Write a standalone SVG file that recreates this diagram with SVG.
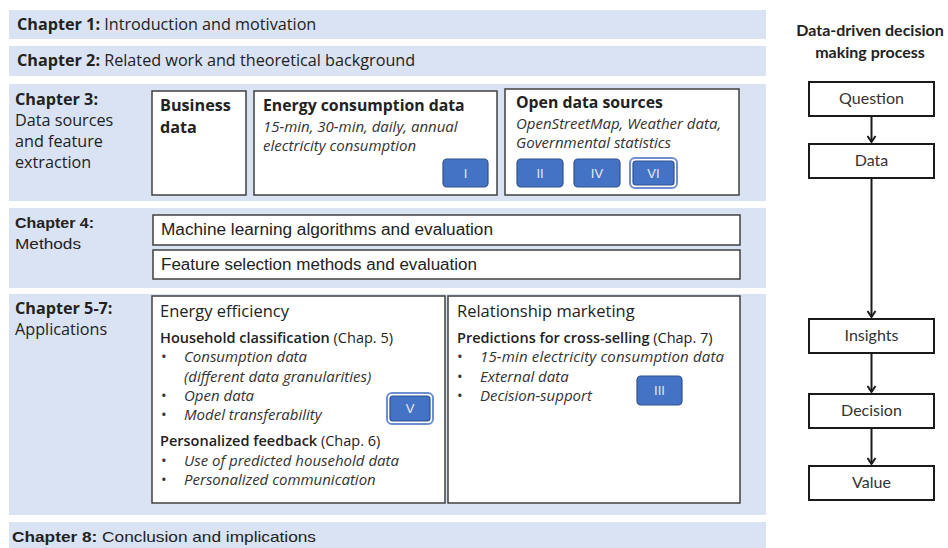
<svg xmlns="http://www.w3.org/2000/svg" width="948" height="548" viewBox="0 0 948 548">
<defs>
<style>
.band{fill:#dae3f3}
.box{fill:#fff;stroke:#404040;stroke-width:1.5}
.t{font-family:"Open Sans","Liberation Sans",sans-serif;font-size:16.2px;fill:#222}
.b{font-weight:bold}
.i{font-style:italic;font-size:15px;fill:#333}
.c{font-family:"Liberation Sans",sans-serif;font-size:16px;fill:#222}
.btn{fill:#4472c4;stroke:#2f528f;stroke-width:1.2}
.btno{fill:none;stroke:#6d8fd0;stroke-width:2}
.bt{font-family:"Liberation Sans",sans-serif;font-size:13px;fill:#e4ebf7;text-anchor:middle}
.fbox{fill:#fff;stroke:#1a1a1a;stroke-width:2}
.ft{font-family:Lato,"Liberation Sans",sans-serif;font-size:16px;fill:#333;text-anchor:middle}
.conn{stroke:#1a1a1a;stroke-width:2;fill:none;marker-end:url(#ah)}
</style>
<marker id="ah" markerWidth="10" markerHeight="10" refX="7" refY="5" orient="auto" markerUnits="userSpaceOnUse">
<path d="M1,1 L7,5 L1,9" fill="none" stroke="#1a1a1a" stroke-width="2"/>
</marker>
</defs>
<rect width="948" height="548" fill="#fff"/>

<g id="ch1">
<rect class="band" x="9" y="10" width="757" height="29"/>
<text class="t" x="17" y="30"><tspan class="b">Chapter 1:</tspan> Introduction and motivation</text>
</g>
<g id="ch2">
<rect class="band" x="9" y="46" width="757" height="30"/>
<text class="t" x="17" y="66"><tspan class="b">Chapter 2:</tspan> Related work and theoretical background</text>
</g>
<g id="ch3">
<rect class="band" x="9" y="84" width="757" height="117"/>
<text class="t b" x="15" y="105">Chapter 3:</text>
<text class="t" x="15" y="126">Data sources</text>
<text class="t" x="15" y="147">and feature</text>
<text class="t" x="15" y="168">extraction</text>
</g>
<g id="business">
<rect class="box" x="152" y="91" width="94" height="104"/>
<text class="t b" x="160" y="111">Business</text>
<text class="t b" x="160" y="133">data</text>
</g>
<g id="energy-data">
<rect class="box" x="254" y="91" width="243" height="104"/>
<text class="t b" x="263" y="111" style="font-size:15.8px">Energy consumption data</text>
<text class="t i" x="263" y="132">15-min, 30-min, daily, annual</text>
<text class="t i" x="263" y="151">electricity consumption</text>
</g>
<g id="btn-I">
<rect class="btn" x="443" y="159" width="45" height="28" rx="4"/>
<text class="bt" x="465.5" y="178">I</text>
</g>
<g id="open-data">
<rect class="box" x="505" y="89" width="234" height="106"/>
<text class="t b" x="516" y="108" style="font-size:15.8px">Open data sources</text>
<text class="t i" x="516" y="129">OpenStreetMap, Weather data,</text>
<text class="t i" x="516" y="148">Governmental statistics</text>
</g>
<g id="btn-II">
<rect class="btn" x="517" y="159" width="46" height="28" rx="4"/>
<text class="bt" x="540" y="178">II</text>
</g>
<g id="btn-IV">
<rect class="btn" x="574" y="159" width="46" height="28" rx="4"/>
<text class="bt" x="597" y="178">IV</text>
</g>
<g id="btn-VI">
<rect class="btno" x="630" y="158" width="47" height="30" rx="5"/>
<rect class="btn" x="633" y="161" width="41" height="24" rx="3"/>
<text class="bt" x="653.5" y="178">VI</text>
</g>

<g id="ch4">
<rect class="band" x="9" y="208" width="757" height="80"/>
<text class="c b" x="15" y="228" style="font-size:15px" textLength="79" lengthAdjust="spacingAndGlyphs">Chapter 4:</text>
<text class="c" x="15" y="249" style="font-size:15px" textLength="66" lengthAdjust="spacingAndGlyphs">Methods</text>
</g>
<g id="ml">
<rect class="box" x="153" y="215" width="587" height="30"/>
<text class="c" x="161" y="235" textLength="332" lengthAdjust="spacingAndGlyphs">Machine learning algorithms and evaluation</text>
</g>
<g id="fs">
<rect class="box" x="153" y="250" width="587" height="29"/>
<text class="c" x="161" y="270" textLength="316" lengthAdjust="spacingAndGlyphs">Feature selection methods and evaluation</text>
</g>

<g id="ch57">
<rect class="band" x="9" y="294" width="757" height="221"/>
<text class="t b" x="15" y="314">Chapter 5-7:</text>
<text class="t" x="15" y="335">Applications</text>
</g>
<g id="energy-eff">
<rect class="box" x="152" y="296" width="293" height="207"/>
<text class="t" x="160" y="317" style="font-size:16.5px">Energy efficiency</text>
<text class="t" x="160" y="343" style="font-size:14.5px"><tspan style="font-weight:600">Household classification</tspan> (Chap. 5)</text>
<g class="t i">
<text x="161" y="362" style="font-style:normal">•</text><text x="184" y="362">Consumption data</text>
<text x="184" y="382">(different data granularities)</text>
<text x="161" y="401" style="font-style:normal">•</text><text x="184" y="401">Open data</text>
<text x="161" y="420" style="font-style:normal">•</text><text x="184" y="420">Model transferability</text>
</g>
<text class="t" x="160" y="446" style="font-size:14.5px"><tspan style="font-weight:600">Personalized feedback</tspan> (Chap. 6)</text>
<g class="t i">
<text x="161" y="466" style="font-style:normal">•</text><text x="184" y="466">Use of predicted household data</text>
<text x="161" y="485" style="font-style:normal">•</text><text x="184" y="485">Personalized communication</text>
</g>
</g>
<g id="btn-V">
<rect class="btno" x="387" y="393" width="46" height="31" rx="5"/>
<rect class="btn" x="390" y="396" width="40" height="25" rx="3"/>
<text class="bt" x="410" y="413">V</text>
</g>
<g id="rel-mkt">
<rect class="box" x="448" y="296" width="292" height="207"/>
<text class="t" x="457" y="317" style="font-size:16.5px">Relationship marketing</text>
<text class="t" x="457" y="343" style="font-size:14.5px"><tspan style="font-weight:600">Predictions for cross-selling</tspan> (Chap. 7)</text>
<g class="t i">
<text x="457" y="362" style="font-style:normal">•</text><text x="480" y="362" textLength="244" lengthAdjust="spacing">15-min electricity consumption data</text>
<text x="457" y="382" style="font-style:normal">•</text><text x="480" y="382">External data</text>
<text x="457" y="401" style="font-style:normal">•</text><text x="480" y="401">Decision-support</text>
</g>
</g>
<g id="btn-III">
<rect class="btn" x="637" y="376" width="45" height="29" rx="4"/>
<text class="bt" x="659.5" y="395">III</text>
</g>

<g id="ch8">
<rect class="band" x="9" y="522" width="757" height="26"/>
<text class="c" x="12" y="542" style="font-size:15px" textLength="304" lengthAdjust="spacingAndGlyphs"><tspan class="b">Chapter 8:</tspan> Conclusion and implications</text>
</g>

<g id="flow-title">
<text class="ft" x="870" y="36" style="font-weight:bold;fill:#222">Data-driven decision</text>
<text class="ft" x="870" y="58" style="font-weight:bold;fill:#222">making process</text>
</g>
<g id="question"><rect class="fbox" x="809" y="82" width="125" height="34"/><text class="ft" x="871.5" y="104">Question</text></g>
<g id="data"><rect class="fbox" x="809" y="144" width="125" height="34"/><text class="ft" x="871.5" y="166">Data</text></g>
<g id="insights"><rect class="fbox" x="809" y="319" width="125" height="34"/><text class="ft" x="871.5" y="341">Insights</text></g>
<g id="decision"><rect class="fbox" x="809" y="394" width="125" height="34"/><text class="ft" x="871.5" y="416">Decision</text></g>
<g id="value"><rect class="fbox" x="809" y="466" width="125" height="34"/><text class="ft" x="871.5" y="488">Value</text></g>

<g id="connectors">
<line class="conn" x1="871.5" y1="116" x2="871.5" y2="142"/>
<line class="conn" x1="871.5" y1="178" x2="871.5" y2="317"/>
<line class="conn" x1="871.5" y1="353" x2="871.5" y2="392"/>
<line class="conn" x1="871.5" y1="428" x2="871.5" y2="464"/>
</g>
</svg>
